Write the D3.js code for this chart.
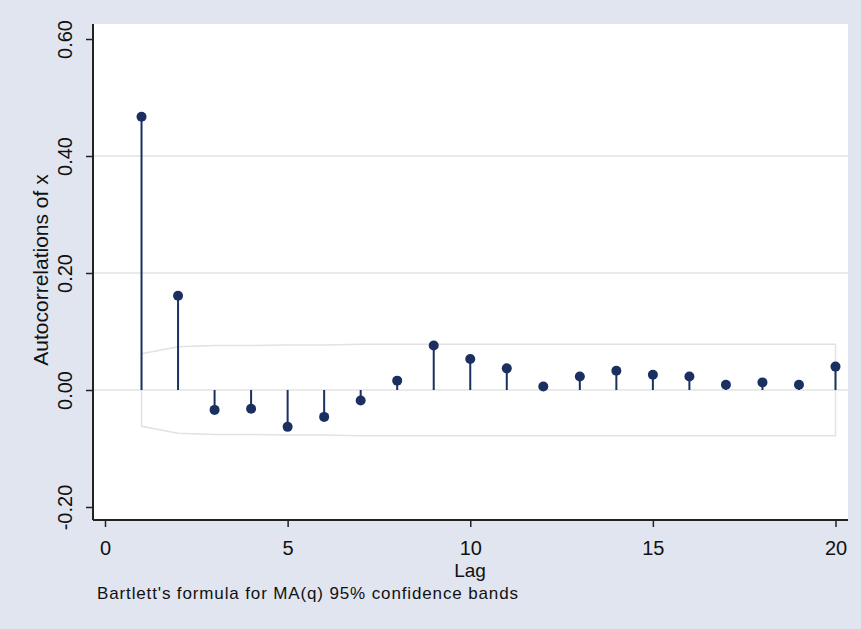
<!DOCTYPE html>
<html>
<head>
<meta charset="utf-8">
<script src="https://cdn.jsdelivr.net/npm/d3@7"></script>
<style>
  html, body { margin: 0; padding: 0; background: #e0e5f0; }
  svg { display: block; font-family: "Liberation Sans", Arial, sans-serif; }
</style>
</head>
<body>
<svg width="861" height="629"></svg>
<script>
// lags 1..20, autocorrelations
const lags = d3.range(1, 21);
const acf = [0.467, 0.161, -0.034, -0.032, -0.063, -0.046, -0.018, 0.016, 0.076, 0.053,
             0.037, 0.006, 0.023, 0.033, 0.026, 0.023, 0.009, 0.013, 0.009, 0.040];
// Bartlett band half-width per lag
const band = [0.062, 0.074, 0.076, 0.076, 0.077, 0.077, 0.078, 0.078, 0.078, 0.078,
              0.078, 0.078, 0.078, 0.078, 0.078, 0.078, 0.078, 0.078, 0.078, 0.078];
const xTicks = [0, 5, 10, 15, 20];
const yTicks = [-0.2, 0, 0.2, 0.4, 0.6];
const yGrid = [0, 0.2, 0.4];

const svg = d3.select("svg");
const plot = { left: 93, right: 848, top: 24, bottom: 520 };
const navy = "#1b2f60";

const x = d3.scaleLinear().domain([0, 20]).range([105, 835.5]);
const y = d3.scaleLinear().domain([-0.2, 0.6]).range([507, 39]);

svg.append("rect")
  .attr("x", plot.left).attr("y", plot.top)
  .attr("width", plot.right - plot.left).attr("height", plot.bottom - plot.top)
  .attr("fill", "#fff");

// confidence band
const area = d3.area()
  .x((d, i) => x(lags[i]))
  .y0((d) => y(-d))
  .y1((d) => y(d));
svg.append("path")
  .datum(band)
  .attr("d", area)
  .attr("fill", "#fff")
  .attr("stroke", "#e2e2e2")
  .attr("stroke-width", 1.5);

// gridlines
svg.append("g")
  .selectAll("line")
  .data(yGrid)
  .enter()
  .append("line")
    .attr("x1", plot.left).attr("x2", plot.right)
    .attr("y1", (d) => y(d)).attr("y2", (d) => y(d))
    .attr("stroke", "#e3e3e3")
    .attr("stroke-width", 1.5);

// stems + markers
const pts = lags.map((l, i) => ({ lag: l, r: acf[i] }));
svg.append("g")
  .selectAll("line")
  .data(pts)
  .enter()
  .append("line")
    .attr("x1", (d) => x(d.lag)).attr("x2", (d) => x(d.lag))
    .attr("y1", y(0)).attr("y2", (d) => y(d.r))
    .attr("stroke", navy)
    .attr("stroke-width", 2);
svg.append("g")
  .selectAll("circle")
  .data(pts)
  .enter()
  .append("circle")
    .attr("cx", (d) => x(d.lag))
    .attr("cy", (d) => y(d.r))
    .attr("r", 5)
    .attr("fill", navy);

// axes
const xAxis = svg.append("g")
  .attr("transform", `translate(0,${plot.bottom})`)
  .call(d3.axisBottom(x).tickValues(xTicks).tickSize(7).tickPadding(14).tickSizeOuter(0));
xAxis.select(".domain").remove();
xAxis.append("line")
  .attr("x1", plot.left).attr("x2", plot.right)
  .attr("stroke", "#222").attr("stroke-width", 2);
xAxis.selectAll(".tick line").attr("stroke", "#222").attr("stroke-width", 1.5);
xAxis.selectAll(".tick text")
  .attr("fill", "#111")
  .style("font-size", "20px");

const fmt = (d) => d3.format(".2f")(d).replace("\u2212", "-");
const yAxis = svg.append("g")
  .attr("transform", `translate(${plot.left},0)`)
  .call(d3.axisLeft(y).tickValues(yTicks).tickSize(7).tickFormat(fmt));
yAxis.select(".domain").remove();
yAxis.append("line")
  .attr("y1", plot.top).attr("y2", plot.bottom)
  .attr("stroke", "#222").attr("stroke-width", 2);
yAxis.selectAll(".tick line").attr("stroke", "#222").attr("stroke-width", 1.5);
yAxis.selectAll(".tick text")
  .attr("x", null).attr("dy", null)
  .attr("text-anchor", "middle")
  .attr("transform", "translate(-21,0) rotate(-90)")
  .attr("fill", "#111")
  .style("font-size", "20px");

// titles
svg.append("text")
  .attr("x", 470).attr("y", 577)
  .attr("text-anchor", "middle")
  .attr("fill", "#111")
  .style("font-size", "19px")
  .text("Lag");

svg.append("text")
  .attr("transform", "translate(48,270) rotate(-90)")
  .attr("text-anchor", "middle")
  .attr("fill", "#111")
  .style("font-size", "21px")
  .text("Autocorrelations of x");

svg.append("text")
  .attr("x", 97).attr("y", 599)
  .attr("fill", "#111")
  .attr("textLength", 421)
  .style("font-size", "17px")
  .text("Bartlett's formula for MA(q) 95% confidence bands");
</script>
</body>
</html>
